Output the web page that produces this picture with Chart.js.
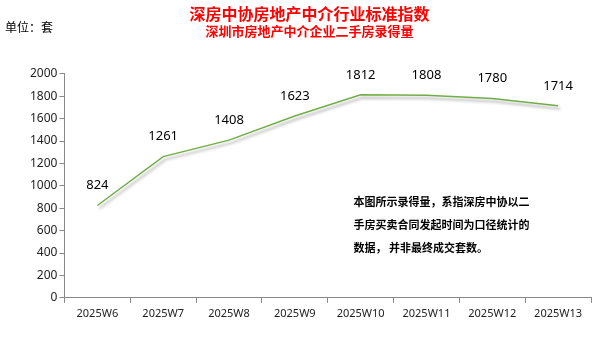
<!DOCTYPE html>
<html>
<head>
<meta charset="utf-8">
<script src="https://cdn.jsdelivr.net/npm/chart.js@4.4.1/dist/chart.umd.min.js"></script>
<style>
  html, body { margin: 0; padding: 0; background: #fff; }
  #wrap { width: 600px; height: 349px; }
</style>
</head>
<body>
<div id="wrap"><canvas id="chart" width="600" height="349"></canvas></div>
<script>
// Data
const weeks = ['2025W6', '2025W7', '2025W8', '2025W9', '2025W10', '2025W11', '2025W12', '2025W13'];
const volumes = [824, 1261, 1408, 1623, 1812, 1808, 1780, 1714];
const yTicks = [0, 200, 400, 600, 800, 1000, 1200, 1400, 1600, 1800, 2000];

const titleText = '深房中协房地产中介行业标准指数';
const subtitleText = '深圳市房地产中介企业二手房录得量';
const unitText = '单位：套';
const noteLines = [
    '本图所示录得量，系指深房中协以二',
    '手房买卖合同发起时间为口径统计的',
    '数据， 并非最终成交套数。'
];

const FONT = "'Noto Sans', 'Noto Sans CJK SC', sans-serif";
const CJK = "'Noto Sans CJK SC', sans-serif";

// Shadow under the line
const shadowPlugin = {
    id: 'lineShadow',
    beforeDatasetsDraw(chart) {
        const ctx = chart.ctx;
        ctx.save();
        ctx.shadowColor = 'rgba(0, 0, 0, 0.35)';
        ctx.shadowBlur = 3;
        ctx.shadowOffsetX = 2;
        ctx.shadowOffsetY = 3;
    },
    afterDatasetsDraw(chart) {
        chart.ctx.restore();
    }
};

// Value labels, unit, note
const labelPlugin = {
    id: 'extraText',
    afterDraw(chart) {
        const ctx = chart.ctx;
        const area = chart.chartArea;
        ctx.save();

        // values above points
        ctx.font = '13px ' + FONT;
        ctx.fillStyle = '#000';
        ctx.textAlign = 'center';
        ctx.textBaseline = 'middle';
        chart.getDatasetMeta(0).data.forEach((pt, i) => {
            ctx.fillText(String(volumes[i]), pt.x, pt.y - 20);
        });

        // unit
        ctx.font = '12px ' + CJK;
        ctx.textAlign = 'left';
        ctx.fillText(unitText, 5, 27);

        // note
        ctx.font = 'bold 11px ' + CJK;
        const nx = area.left + 289;
        let ny = area.top + 128;
        noteLines.forEach(line => {
            ctx.fillText(line, nx, ny);
            ny += 23;
        });
        ctx.restore();
    }
};

new Chart(document.getElementById('chart'), {
    type: 'line',
    data: {
        labels: weeks,
        datasets: [{
            data: volumes,
            borderColor: '#70AD47',
            borderWidth: 1.5,
            pointRadius: 0,
            tension: 0,
            fill: false
        }]
    },
    options: {
        responsive: false,
        animation: false,
        layout: { padding: { left: 28, right: 9, top: 0, bottom: 25 } },
        plugins: {
            legend: { display: false },
            tooltip: { enabled: false },
            title: {
                display: true,
                text: titleText,
                color: '#FF0000',
                font: { family: CJK, size: 16, weight: 'bold' },
                padding: { top: 4, bottom: 0 }
            },
            subtitle: {
                display: true,
                text: subtitleText,
                color: '#FF0000',
                font: { family: CJK, size: 13, weight: 'bold' },
                padding: { top: 0, bottom: 35 }
            }
        },
        scales: {
            x: {
                offset: true,
                grid: { display: true, drawOnChartArea: false, drawTicks: true, tickLength: 5, offset: true, color: '#888' },
                border: { display: true, color: '#888' },
                ticks: { color: '#222', font: { family: FONT, size: 11 }, padding: 4, maxRotation: 0 }
            },
            y: {
                min: 0,
                max: 2000,
                afterBuildTicks(axis) { axis.ticks = yTicks.map(v => ({ value: v })); },
                grid: { display: true, drawOnChartArea: false, drawTicks: true, tickLength: 5, color: '#888' },
                border: { display: true, color: '#888' },
                ticks: {
                    color: '#222',
                    font: { family: FONT, size: 12 },
                    padding: 2,
                    callback: v => String(v)
                }
            }
        }
    },
    plugins: [shadowPlugin, labelPlugin]
});
</script>
</body>
</html>
